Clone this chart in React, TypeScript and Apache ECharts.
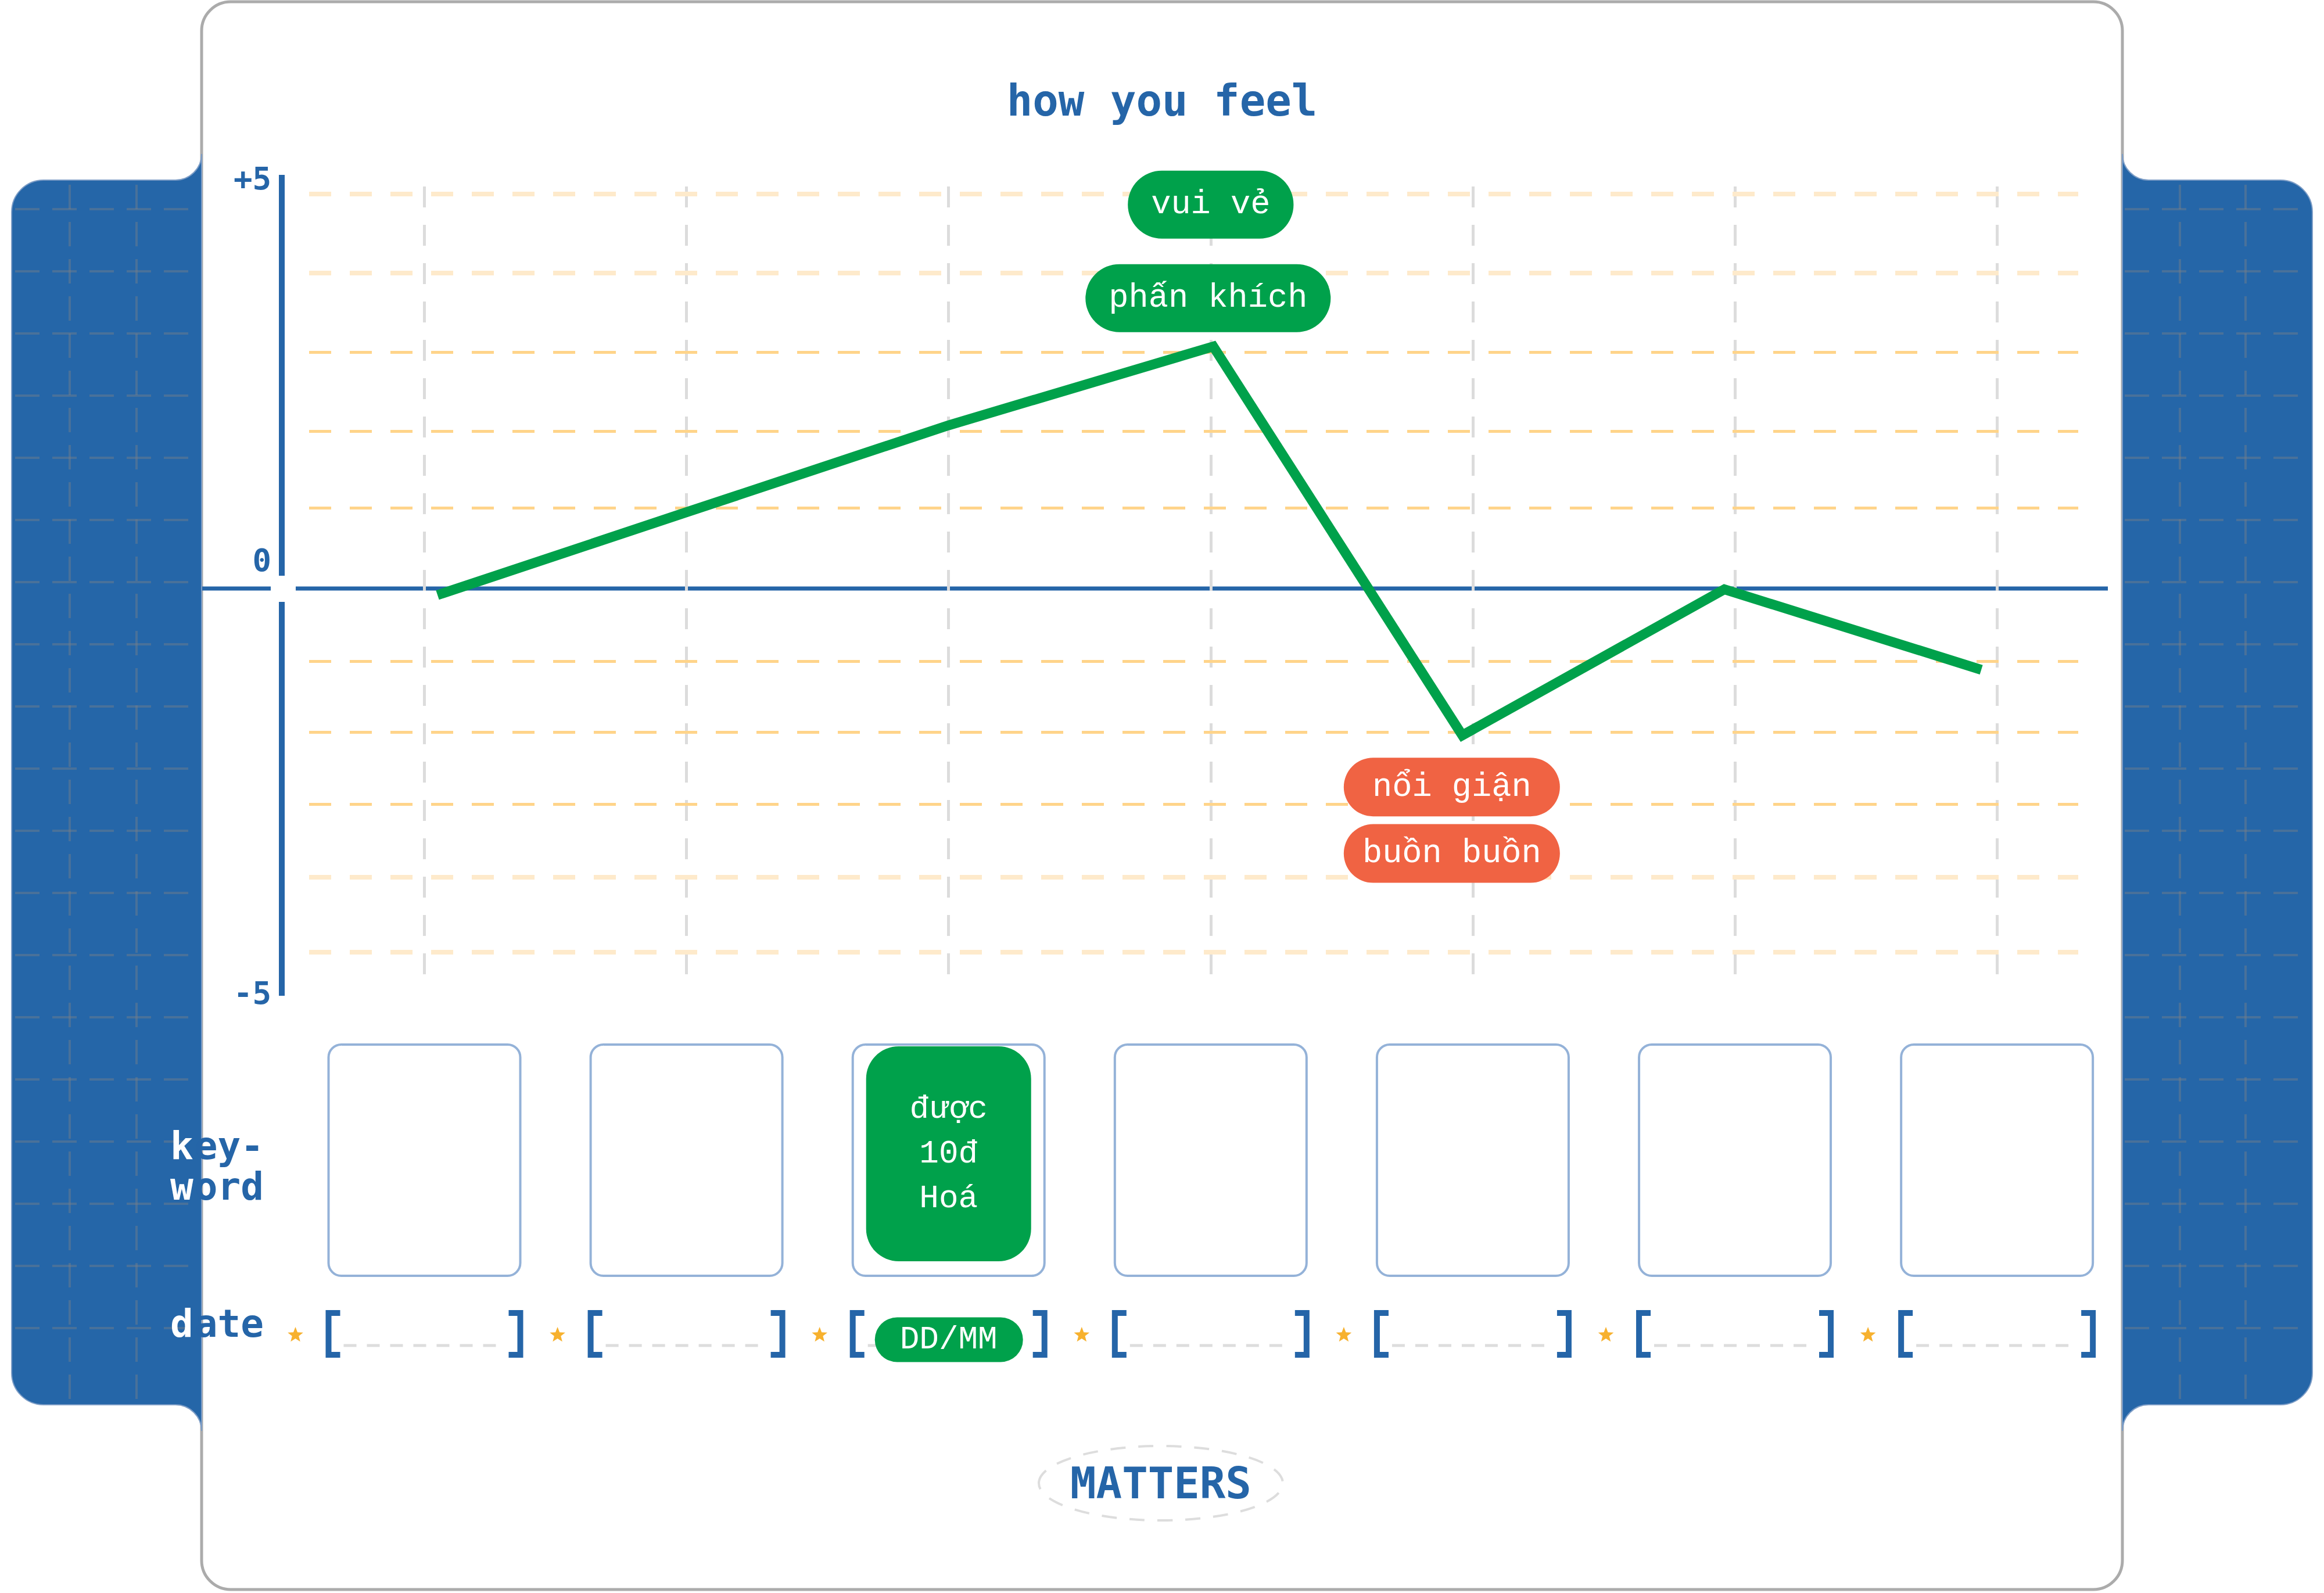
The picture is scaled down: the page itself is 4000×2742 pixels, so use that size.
import React, { useEffect, useRef } from "react";
import * as echarts from "echarts";

// ---------- data ----------
const DAYS = ["1", "2", "3", "4", "5", "6", "7"];
const MOOD_X = [0.05, 1, 2, 3.01, 3.96, 4.96, 5.94];
const MOOD_Y = [-0.08, 0.93, 1.99, 2.95, -1.79, -0.01, -0.99];
const Y_TICKS = [-5, 0, 5];
const GRID_LEVELS = [4.81, 3.85, 2.88, 1.92, 0.98, -0.885, -1.75, -2.63, -3.52, -4.43];
const LIGHT_LEVELS = [4.81, 3.85, -3.52, -4.43];
const TAG_TEXT = ["vui vẻ", "phấn khích", "nổi giận", "buồn buồn"];
const TAG_X = [3.0, 2.99, 3.92, 3.92];
const TAG_Y = [4.68, 3.54, -2.42, -3.23];
const TAG_KIND = ["good", "good", "bad", "bad"];
const KEYWORDS = ["", "", "được\n10đ\nHoá", "", "", "", ""];
const DATES = ["", "", "DD/MM", "", "", "", ""];
const TITLE = "how you feel";
const SIDE_LABELS = ["key-", "word", "date"];
const BRAND = "MATTERS";

// ---------- layout / style ----------
const W = 4000;
const H = 2742;
const BLUE = "#2565A8";
const PANEL_BLUE = "#2566A8";
const GREEN = "#00A14B";
const RED = "#F06343";
const MONO = '"DejaVu Sans Mono", monospace';
const VMONO = '"Liberation Mono", "DejaVu Sans Mono", monospace';

const GRID_LEFT = 532;
const GRID_W = 3045;
const GRID_TOP = 307;
const GRID_H = 1412;
const X_MIN = -0.44;
const X_MAX = 6.31;
const ROW_TOP = 1798;
const ROW_H = 398;
const BOX_W = 330;

const CARD_L = 347;
const CARD_R = 3653;
const P_TOP = 310;
const P_BOT = 2418;
const P_R = 55;
const P_F = 45;
const L_OUT = 20;
const R_OUT = 3980;

const leftD =
  `M ${L_OUT} ${P_TOP + P_R} A ${P_R} ${P_R} 0 0 1 ${L_OUT + P_R} ${P_TOP} ` +
  `L ${CARD_L - P_F} ${P_TOP} A ${P_F} ${P_F} 0 0 0 ${CARD_L} ${P_TOP - P_F} ` +
  `L ${CARD_L} ${P_BOT + P_F} A ${P_F} ${P_F} 0 0 0 ${CARD_L - P_F} ${P_BOT} ` +
  `L ${L_OUT + P_R} ${P_BOT} A ${P_R} ${P_R} 0 0 1 ${L_OUT} ${P_BOT - P_R} Z`;
const rightD =
  `M ${R_OUT} ${P_TOP + P_R} A ${P_R} ${P_R} 0 0 0 ${R_OUT - P_R} ${P_TOP} ` +
  `L ${CARD_R + P_F} ${P_TOP} A ${P_F} ${P_F} 0 0 1 ${CARD_R} ${P_TOP - P_F} ` +
  `L ${CARD_R} ${P_BOT + P_F} A ${P_F} ${P_F} 0 0 1 ${CARD_R + P_F} ${P_BOT} ` +
  `L ${R_OUT - P_R} ${P_BOT} A ${P_R} ${P_R} 0 0 0 ${R_OUT} ${P_BOT - P_R} Z`;

echarts.graphic.registerShape("leftPanel", echarts.graphic.extendPath(leftD, {}));
echarts.graphic.registerShape("rightPanel", echarts.graphic.extendPath(rightD, {}));

function starPts(cx: number, cy: number, ro: number, ri: number) {
  const pts: number[][] = [];
  for (let k = 0; k < 10; k++) {
    const a = -Math.PI / 2 + (k * Math.PI) / 5;
    const rr = k % 2 ? ri : ro;
    pts.push([cx + rr * Math.cos(a), cy + rr * Math.sin(a)]);
  }
  return pts;
}

function buildOption() {
  const g: any[] = [];
  // card
  g.push({
    type: "rect", z: 1,
    shape: { x: CARD_L, y: 3, width: CARD_R - CARD_L, height: 2733, r: 50 },
    style: { fill: "#fff", stroke: "#ABABAB", lineWidth: 5 },
  });
  g.push({ type: "leftPanel", z: 2, x: 0, y: 0, style: { fill: PANEL_BLUE, stroke: "#7D9DC6", lineWidth: 2 } });
  g.push({ type: "rightPanel", z: 2, x: 0, y: 0, style: { fill: PANEL_BLUE, stroke: "#7D9DC6", lineWidth: 2 } });
  const pgStyle = { stroke: "rgba(125,128,135,0.42)", lineWidth: 4, lineDash: [42, 22] };
  for (let y = P_TOP + 50; y < P_BOT - 40; y += 107) {
    g.push({ type: "line", z: 3, shape: { x1: L_OUT + 6, y1: y, x2: CARD_L - 4, y2: y }, style: pgStyle });
    g.push({ type: "line", z: 3, shape: { x1: CARD_R + 4, y1: y, x2: R_OUT - 6, y2: y }, style: pgStyle });
  }
  [120, 235, 3752, 3865].forEach((x) => {
    g.push({ type: "line", z: 3, shape: { x1: x, y1: P_TOP + 8, x2: x, y2: P_BOT - 8 }, style: pgStyle });
  });
  // zero line & y axis line
  const zeroY = GRID_TOP + GRID_H / 2;
  g.push({ type: "line", z: 3, shape: { x1: 348, y1: zeroY, x2: 466, y2: zeroY }, style: { stroke: BLUE, lineWidth: 7 } });
  g.push({ type: "line", z: 3, shape: { x1: 509, y1: zeroY, x2: 3628, y2: zeroY }, style: { stroke: BLUE, lineWidth: 7 } });
  g.push({ type: "line", z: 3, shape: { x1: 485, y1: 301, x2: 485, y2: zeroY - 22 }, style: { stroke: BLUE, lineWidth: 10 } });
  g.push({ type: "line", z: 3, shape: { x1: 485, y1: zeroY + 23, x2: 485, y2: 1714 }, style: { stroke: BLUE, lineWidth: 10 } });
  // title
  g.push({
    type: "text", z: 9,
    style: {
      text: TITLE, x: 2000, y: 173, fill: BLUE,
      font: `bold 74px ${MONO}`, textAlign: "center", textVerticalAlign: "middle",
      align: "center", verticalAlign: "middle",
    },
  });
  // side labels: first character sits on the blue panel (white), rest on the card (blue)
  const sideY = [1972, 2042, 2278];
  const fs = 66;
  const adv = 0.602 * fs;
  SIDE_LABELS.forEach((t, li) => {
    g.push({
      type: "text", z: 9,
      style: {
        text: t.charAt(0), x: 294 + adv - 1, y: sideY[li], fill: "#fff",
        font: `bold ${fs}px ${MONO}`, textAlign: "right", textVerticalAlign: "middle",
        align: "right", verticalAlign: "middle",
      },
    });
    g.push({
      type: "text", z: 9,
      style: {
        text: t.slice(1), x: 294 + adv + 1, y: sideY[li], fill: BLUE,
        font: `bold ${fs}px ${MONO}`, textAlign: "left", textVerticalAlign: "middle",
        align: "left", verticalAlign: "middle",
      },
    });
  });
  // brand
  g.push({
    type: "ellipse", z: 9,
    shape: { cx: 1998, cy: 2553, rx: 210, ry: 64 },
    style: { fill: "none", stroke: "#DDDDDD", lineWidth: 4, lineDash: [26, 22] },
  });
  g.push({
    type: "text", z: 9,
    style: {
      text: BRAND, x: 1998, y: 2553, fill: BLUE,
      font: `bold 74px ${MONO}`, textAlign: "center", textVerticalAlign: "middle",
      align: "center", verticalAlign: "middle",
    },
  });

  const mood = MOOD_X.map((x, i) => [x, MOOD_Y[i]]);

  const markData: any[] = [];
  DAYS.forEach((_, i) => {
    markData.push([
      { coord: [i, 4.9], lineStyle: { color: "#DCDCDC", width: 5, type: [36, 30] } },
      { coord: [i, -4.75] },
    ]);
  });
  GRID_LEVELS.forEach((v) => {
    const light = LIGHT_LEVELS.indexOf(v) >= 0;
    markData.push({
      yAxis: v,
      lineStyle: light
        ? { color: "#FEEACB", width: 8, type: [38, 32] }
        : { color: "#FFD48A", width: 5, type: [38, 32] },
    });
  });

  const tickStyle = { color: BLUE, fontFamily: MONO, fontSize: 54, fontWeight: "bold" };

  return {
    animation: false,
    backgroundColor: "#ffffff",
    grid: [
      { left: GRID_LEFT, top: GRID_TOP, width: GRID_W, height: GRID_H },
      { left: GRID_LEFT, top: ROW_TOP, width: GRID_W, height: ROW_H },
    ],
    xAxis: [
      { type: "value", gridIndex: 0, min: X_MIN, max: X_MAX, show: false },
      { type: "value", gridIndex: 1, min: X_MIN, max: X_MAX, show: false },
    ],
    yAxis: [
      {
        type: "value", gridIndex: 0, min: Y_TICKS[0], max: Y_TICKS[2], interval: 5, offset: 47, z: 10,
        axisLine: { show: false }, axisTick: { show: false }, splitLine: { show: false },
        axisLabel: {
          margin: 18,
          formatter: (v: number) => (v === 0 ? "{z|0}" : v > 0 ? "{p|+" + v + "}" : "{n|" + v + "}"),
          rich: {
            z: { ...tickStyle, padding: [0, 0, 98, 0] },
            p: { ...tickStyle },
            n: { ...tickStyle, padding: [0, 0, 20, 0] },
          },
        },
      },
      { type: "value", gridIndex: 1, min: 0, max: 1, show: false },
    ],
    graphic: { elements: g },
    series: [
      {
        type: "line", xAxisIndex: 0, yAxisIndex: 0, data: mood, symbol: "none", silent: true, z: 4,
        lineStyle: { opacity: 0, width: 0 },
        markLine: { silent: true, symbol: ["none", "none"], label: { show: false }, data: markData },
      },
      {
        type: "line", xAxisIndex: 0, yAxisIndex: 0, data: mood, symbol: "none", z: 6,
        lineStyle: { color: GREEN, width: 17, join: "miter", cap: "butt" },
      },
      {
        type: "scatter", xAxisIndex: 0, yAxisIndex: 0, z: 7, symbolSize: 1,
        itemStyle: { color: "transparent", opacity: 1 },
        label: {
          show: true, position: "inside", formatter: "{b}", color: "#fff", opacity: 1,
          fontFamily: VMONO, fontSize: 57, lineHeight: 69, borderRadius: 60,
          align: "center", verticalAlign: "middle",
        },
        data: TAG_TEXT.map((t, i) => {
          const good = TAG_KIND[i] === "good";
          return {
            name: t,
            value: [TAG_X[i], TAG_Y[i]],
            label: good
              ? { backgroundColor: GREEN, padding: [24, 40] }
              : { backgroundColor: RED, padding: [16, 0], width: 372 },
          };
        }),
      },
      {
        type: "custom", xAxisIndex: 1, yAxisIndex: 1, z: 5, clip: false,
        data: DAYS.map((_, i) => [i, 0.5]),
        renderItem: (params: any, api: any) => {
          const idx = params.dataIndex;
          const i = api.value(0);
          const pTop = api.coord([i, 1]);
          const cx = pTop[0];
          const top = pTop[1];
          const bottom = api.coord([i, 0])[1];
          const h = bottom - top;
          const L = cx - BOX_W / 2;
          const R = cx + BOX_W / 2;
          const kids: any[] = [
            {
              type: "rect",
              shape: { x: L, y: top, width: BOX_W, height: h, r: 22 },
              style: { fill: "#fff", stroke: "#94B2D8", lineWidth: 4 },
            },
          ];
          const kw = KEYWORDS[idx];
          if (kw) {
            kids.push({
              type: "rect",
              shape: { x: cx - 142, y: top + 3, width: 284, height: h - 28, r: 56 },
              style: { fill: GREEN },
            });
            kids.push({
              type: "text",
              style: {
                text: kw, x: cx, y: top + 3 + (h - 28) / 2, fill: "#fff",
                fontSize: 56, fontFamily: VMONO, lineHeight: 77,
                align: "center", verticalAlign: "middle", textAlign: "center", textVerticalAlign: "middle",
              },
            });
          }
          const dy = bottom + 100;
          kids.push({ type: "polygon", shape: { points: starPts(L - 57, dy + 2, 14, 6) }, style: { fill: "#F7B12E" } });
          kids.push({
            type: "line",
            shape: { x1: L + 26, y1: dy + 20, x2: R - 26, y2: dy + 20 },
            style: { stroke: "#DDDDDD", lineWidth: 5, lineDash: [22, 18] },
          });
          kids.push({
            type: "polyline",
            shape: { points: [[L + 20, dy - 36], [L, dy - 36], [L, dy + 36], [L + 20, dy + 36]] },
            style: { stroke: BLUE, lineWidth: 10, fill: "none" },
          });
          kids.push({
            type: "polyline",
            shape: { points: [[R - 20, dy - 36], [R, dy - 36], [R, dy + 36], [R - 20, dy + 36]] },
            style: { stroke: BLUE, lineWidth: 10, fill: "none" },
          });
          const dt = DATES[idx];
          if (dt) {
            kids.push({
              type: "rect",
              shape: { x: cx - 127, y: dy + 10 - 38.5, width: 255, height: 77, r: 38.5 },
              style: { fill: GREEN },
            });
            kids.push({
              type: "text",
              style: {
                text: dt, x: cx, y: dy + 10, fill: "#fff", fontSize: 56, fontFamily: VMONO,
                align: "center", verticalAlign: "middle", textAlign: "center", textVerticalAlign: "middle",
              },
            });
          }
          return { type: "group", children: kids };
        },
      },
    ],
  };
}

export default function App() {
  const ref = useRef<HTMLDivElement>(null);
  useEffect(() => {
    if (!ref.current) return;
    const chart = echarts.init(ref.current, null, { renderer: "svg" });
    chart.setOption(buildOption() as any);
    return () => chart.dispose();
  }, []);
  return (
    <div
      ref={ref}
      style={{ position: "absolute", left: 0, top: 0, width: W, height: H, background: "#fff" }}
    />
  );
}
